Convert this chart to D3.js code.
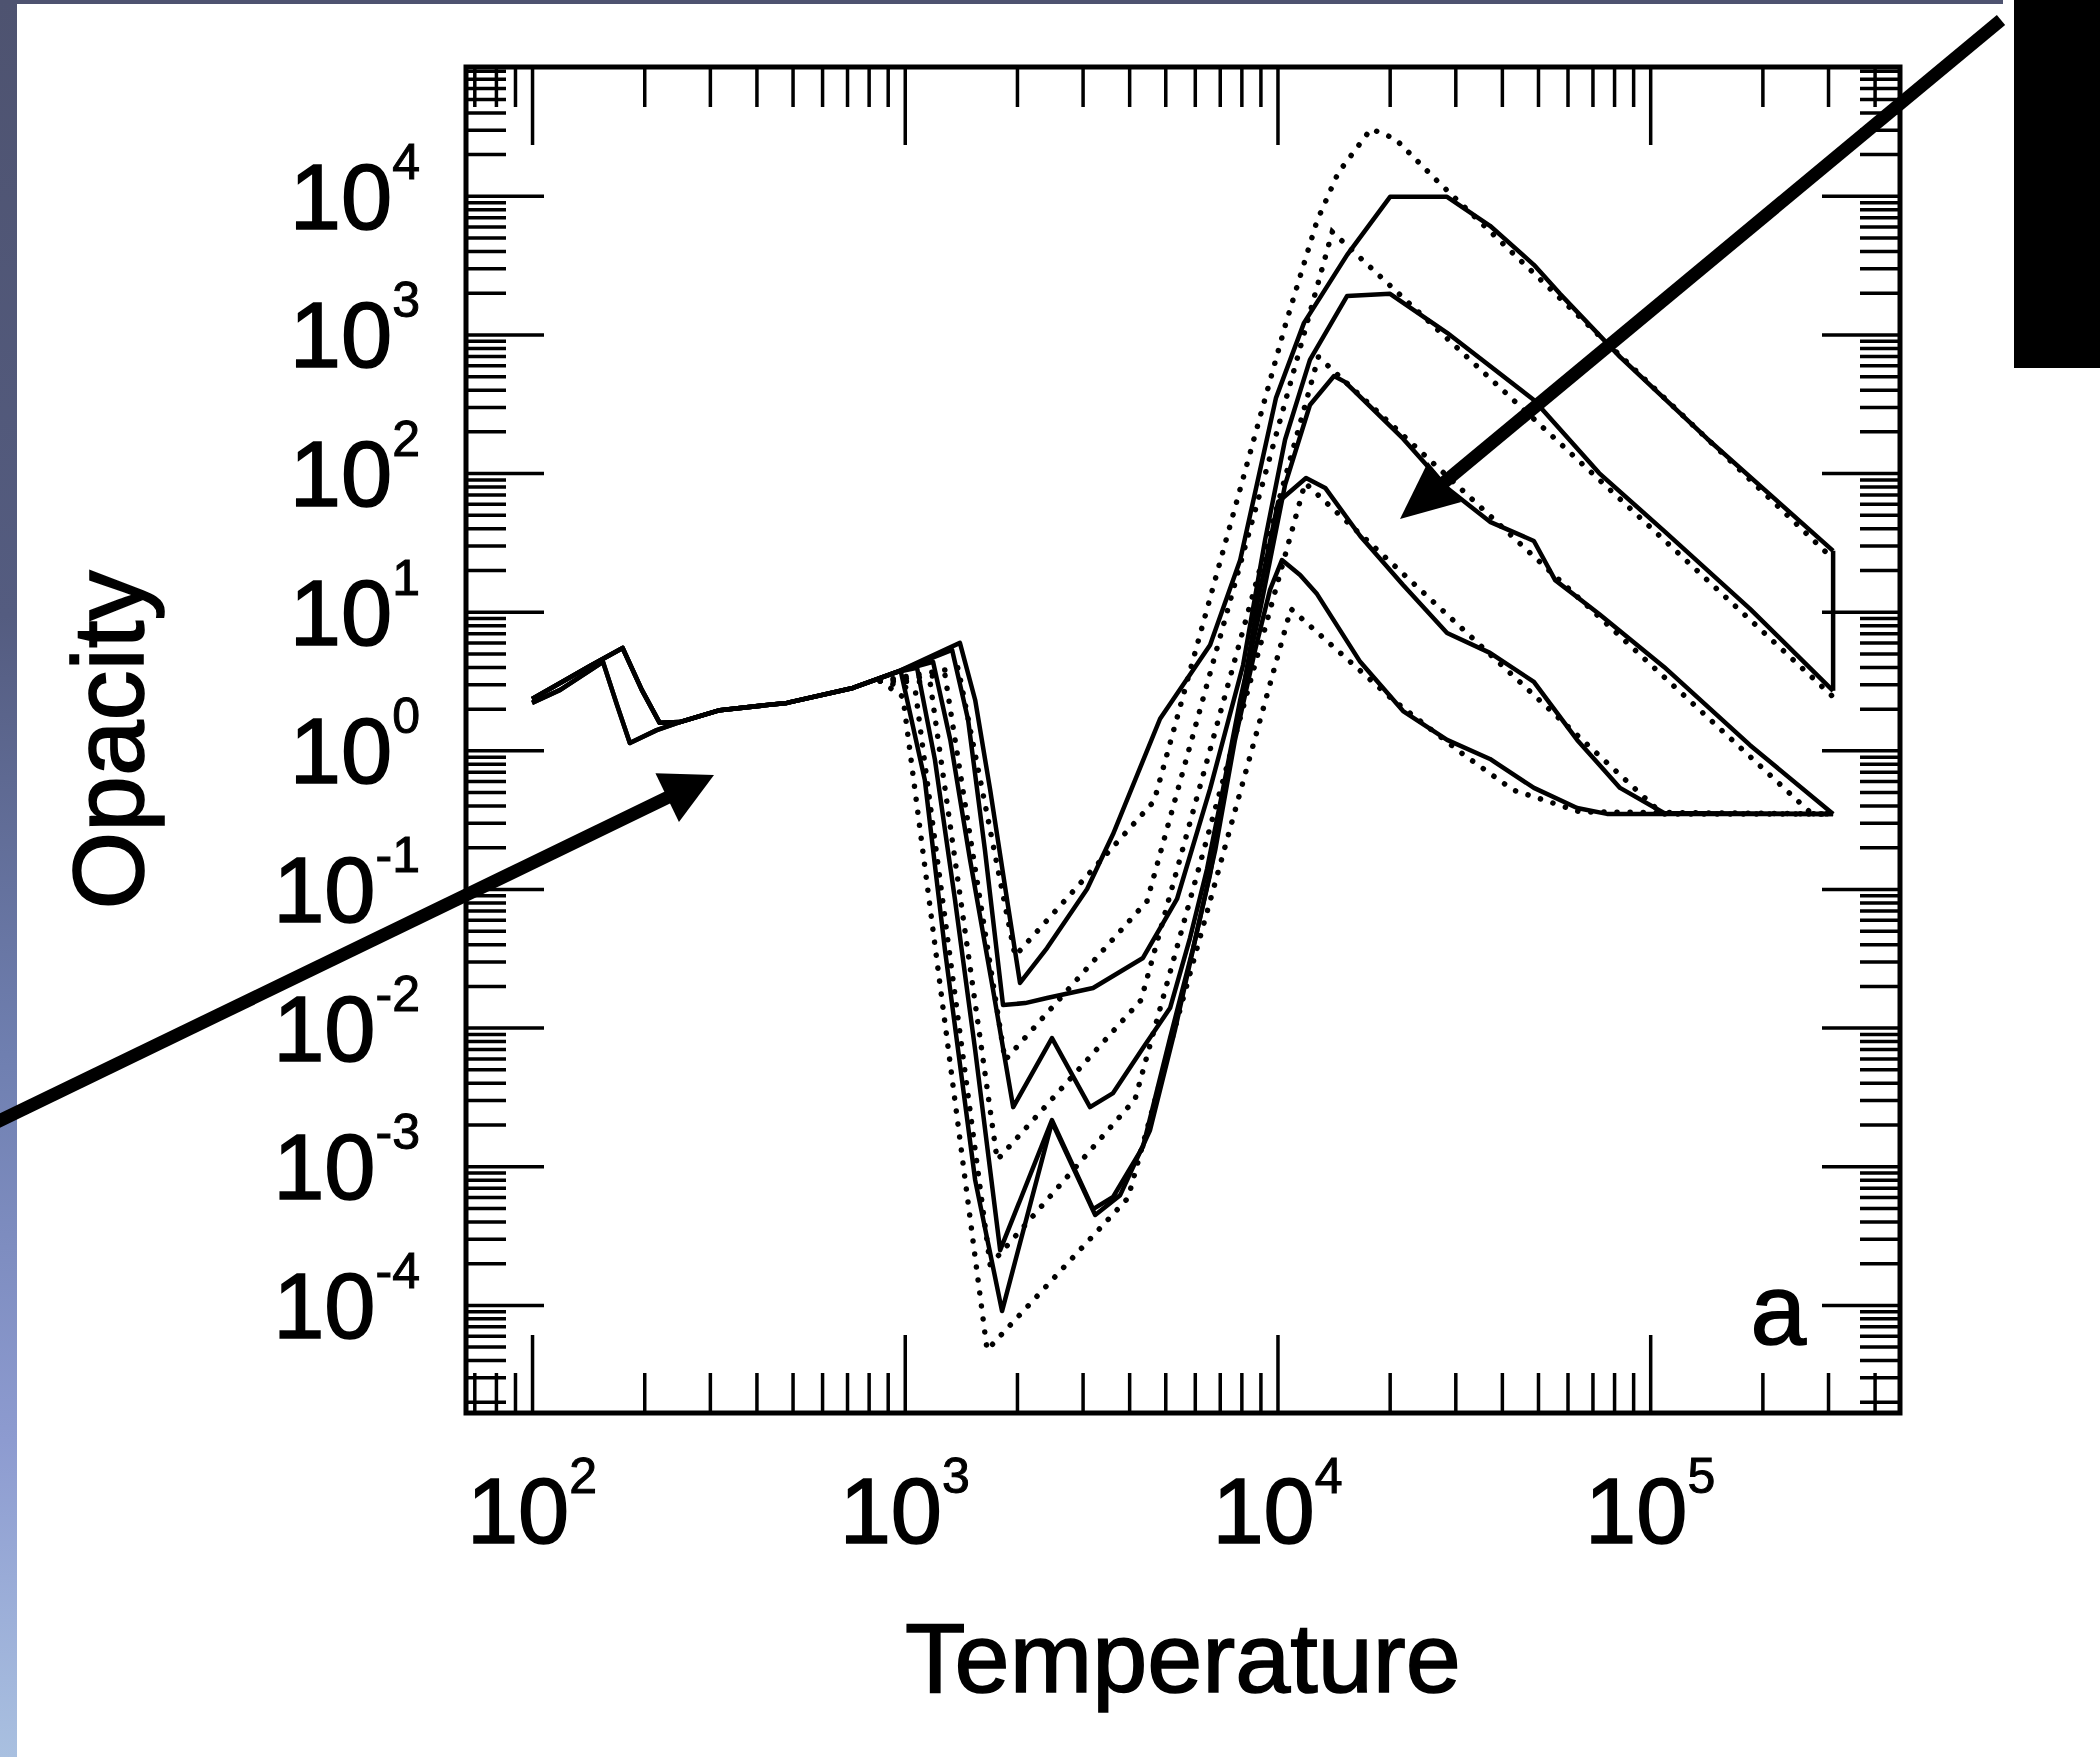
<!DOCTYPE html>
<html>
<head>
<meta charset="utf-8">
<script src="https://cdn.jsdelivr.net/npm/d3@7"></script>
<style>
body { margin: 0; background: #fff; }
svg text { font-family: "Liberation Sans", Arial, Helvetica, sans-serif; fill: #000; stroke: #000; stroke-width: 1.6px; }
</style>
</head>
<body>
<div id="chart"></div>
<script>
var width = 2100,
	height = 1757,
	plotLeft = 466,
	plotRight = 1900,
	plotTop = 67,
	plotBottom = 1413;

// axis ranges: temperature (K) and Rosseland mean opacity (cm^2/g)
var tempDomain = [66.5, 4.68e5],
	opacityDomain = [1.66e-5, 8.5e4];

var tempLabels = [1e2, 1e3, 1e4, 1e5];
var opacityLabels = [1e-4, 1e-3, 1e-2, 1e-1, 1e0, 1e1, 1e2, 1e3, 1e4];

// tabulated opacities (solid), [T, kappa], highest density first
var curve1 = [[100, 2.35], [119, 3.06], [143, 4.06], [175, 5.48], [197, 2.73], [220, 1.58], [249, 1.60],
	[319, 1.95], [483, 2.20], [726, 2.82], [953, 3.68], [1406, 5.96], [1545, 2.31], [1695, 0.518],
	[1893, 0.0753], [2038, 0.0210], [2408, 0.0375], [3085, 0.100], [3622, 0.249], [4842, 1.69],
	[6595, 5.75], [7943, 23.6], [9910, 349], [11780, 1213], [15380, 3750], [20050, 9840],
	[28510, 9840], [37170, 6080], [48750, 3180], [57280, 1963], [82990, 689], [142200, 177],
	[309600, 27.5]];

var curve2 = [[100, 2.35], [119, 3.06], [143, 4.06], [175, 5.48], [197, 2.73], [220, 1.58], [249, 1.60],
	[319, 1.95], [483, 2.20], [726, 2.82], [953, 3.68], [1340, 5.30], [1479, 1.66], [1641, 0.191],
	[1835, 0.01456], [2104, 0.01503], [2408, 0.01636], [3201, 0.0193], [4356, 0.0318], [5377, 0.0847],
	[6595, 0.527], [8087, 4.13], [9265, 33.0], [10480, 174], [12220, 656], [15380, 1897], [20050, 1963],
	[28510, 1028], [48750, 337], [72940, 100], [108900, 38.3], [185300, 10.5], [309600, 2.69]];

var curve3 = [[100, 2.35], [119, 3.06], [143, 4.06], [175, 5.48], [197, 2.73], [220, 1.58], [249, 1.60],
	[319, 1.95], [483, 2.20], [726, 2.82], [953, 3.68], [1191, 4.35], [1325, 1.19], [1497, 0.162],
	[1726, 0.01866], [1954, 0.00267], [2483, 0.00841], [3141, 0.00267], [3622, 0.00337], [4356, 0.00713],
	[5150, 0.01384], [5825, 0.0443], [6470, 0.139], [7145, 0.527], [7943, 2.31], [8983, 10.3],
	[10480, 82.2], [12220, 310], [14180, 502], [15170, 455], [21730, 177], [28510, 78.2], [37170, 44.5],
	[48750, 32.4], [55590, 16.9], [72940, 9.64], [108900, 4.00], [185300, 1.09], [309600, 0.348]];

var curve4 = [[100, 2.20], [119, 2.73], [155, 4.35], [169, 2.13], [183, 1.13], [216, 1.40], [249, 1.60],
	[319, 1.95], [483, 2.20], [726, 2.82], [953, 3.68], [1079, 3.94], [1205, 0.853], [1364, 0.0834],
	[1545, 0.00689], [1803, 0.000248], [2483, 0.00215], [3201, 0.000491], [3622, 0.000600],
	[4356, 0.00138], [5150, 0.00841], [5940, 0.0375], [6595, 0.128], [7464, 0.853], [8185, 3.22],
	[8870, 12.2], [10040, 61.9], [11930, 92.3], [13430, 78.2], [16670, 35.2], [21730, 15.6],
	[28510, 7.03], [37170, 5.05], [48750, 3.12], [63680, 1.19], [82990, 0.536], [108900, 0.353],
	[309600, 0.348]];

var curve5 = [[100, 2.20], [119, 2.73], [155, 4.35], [169, 2.13], [183, 1.13], [216, 1.40], [249, 1.60],
	[319, 1.95], [483, 2.20], [726, 2.82], [975, 3.75], [1132, 0.611], [1282, 0.0363], [1545, 0.000794],
	[1824, 0.0000902], [2483, 0.00208], [3243, 0.000445], [3784, 0.000619], [4550, 0.00182],
	[5309, 0.00962], [6012, 0.0429], [6808, 0.191], [7691, 1.19], [8710, 5.30], [9550, 14.4],
	[10280, 23.6], [11500, 18.4], [12770, 13.4], [16670, 4.35], [21730, 1.92], [28510, 1.19],
	[37170, 0.867], [48750, 0.536], [63680, 0.384], [76560, 0.348], [309600, 0.348]];

// end of the table: the plotted line drops from curve 1 to curve 2
var tableEdge = [[309600, 27.5], [309600, 2.69]];

// analytic fits (dotted), same densities
var fit1 = [[859, 3.17], [1390, 3.94], [1977, 0.0329], [4667, 0.431], [10540, 1213], [12770, 6607],
	[14550, 14660], [17820, 30400], [20700, 25760], [26980, 12620], [309600, 24.0]];
var fit2 = [[859, 3.17], [1282, 3.50], [1858, 0.00583], [4467, 0.0818], [14030, 5495], [309600, 2.43]];
var fit3 = [[859, 3.17], [1169, 3.12], [1770, 0.00111], [4305, 0.0158], [12880, 689], [271600, 0.348],
	[309600, 0.348]];
var fit4 = [[859, 3.17], [1067, 2.73], [1695, 0.000194], [4150, 0.00305], [11860, 84.9], [107700, 0.348],
	[309600, 0.348]];
var fit5 = [[859, 3.17], [989, 2.43], [1663, 0.0000472], [3972, 0.000590], [10860, 10.5], [20420, 2.31],
	[30900, 0.973], [42850, 0.518], [64860, 0.36], [309600, 0.348]];

var svg = d3.select("#chart").append("svg")
	.attr("width", width)
	.attr("height", height);

svg.append("rect")
	.attr("width", width)
	.attr("height", height)
	.attr("fill", "#fff");

// bits of the slide around the figure
var grad = svg.append("defs").append("linearGradient")
	.attr("id", "edge")
	.attr("x1", 0).attr("y1", 0)
	.attr("x2", 0).attr("y2", 1);
grad.append("stop").attr("offset", 0).attr("stop-color", "#4e5370");
grad.append("stop").attr("offset", 0.35).attr("stop-color", "#545c80");
grad.append("stop").attr("offset", 0.6).attr("stop-color", "#6f7fb0");
grad.append("stop").attr("offset", 0.82).attr("stop-color", "#8d9bd0");
grad.append("stop").attr("offset", 1).attr("stop-color", "#a9c0e0");

svg.append("rect")
	.attr("x", 0).attr("y", 0)
	.attr("width", 17).attr("height", height)
	.attr("fill", "url(#edge)");
svg.append("rect")
	.attr("x", 0).attr("y", 0)
	.attr("width", 2003).attr("height", 4)
	.attr("fill", "#4e5370");
svg.append("rect")
	.attr("x", 2014).attr("y", 0)
	.attr("width", 86).attr("height", 368)
	.attr("fill", "#000");

var x = d3.scaleLog().domain(tempDomain).range([plotLeft, plotRight]);
var y = d3.scaleLog().domain(opacityDomain).range([plotBottom, plotTop]);

function isDecade(v) {
	var p = Math.log10(v);
	return Math.abs(p - Math.round(p)) < 1e-6;
}

var xAll = x.ticks(40),
	yAll = y.ticks(40);
var xMajor = xAll.filter(isDecade),
	xMinor = xAll.filter(function(v) { return !isDecade(v); });
var yMajor = yAll.filter(isDecade),
	yMinor = yAll.filter(function(v) { return !isDecade(v); });

function styleAxis(g) {
	g.select(".domain").remove();
	g.selectAll(".tick line").attr("stroke", "#000").attr("stroke-width", 3.5);
}

// ticks point inward on all four sides
var axes = svg.append("g").attr("class", "axes");
axes.append("g").attr("transform", "translate(0," + plotBottom + ")")
	.call(d3.axisTop(x).tickValues(xMinor).tickSize(40).tickFormat("")).call(styleAxis);
axes.append("g").attr("transform", "translate(0," + plotBottom + ")")
	.call(d3.axisTop(x).tickValues(xMajor).tickSize(78).tickFormat("")).call(styleAxis);
axes.append("g").attr("transform", "translate(0," + plotTop + ")")
	.call(d3.axisBottom(x).tickValues(xMinor).tickSize(40).tickFormat("")).call(styleAxis);
axes.append("g").attr("transform", "translate(0," + plotTop + ")")
	.call(d3.axisBottom(x).tickValues(xMajor).tickSize(78).tickFormat("")).call(styleAxis);
axes.append("g").attr("transform", "translate(" + plotLeft + ",0)")
	.call(d3.axisRight(y).tickValues(yMinor).tickSize(40).tickFormat("")).call(styleAxis);
axes.append("g").attr("transform", "translate(" + plotLeft + ",0)")
	.call(d3.axisRight(y).tickValues(yMajor).tickSize(78).tickFormat("")).call(styleAxis);
axes.append("g").attr("transform", "translate(" + plotRight + ",0)")
	.call(d3.axisLeft(y).tickValues(yMinor).tickSize(40).tickFormat("")).call(styleAxis);
axes.append("g").attr("transform", "translate(" + plotRight + ",0)")
	.call(d3.axisLeft(y).tickValues(yMajor).tickSize(78).tickFormat("")).call(styleAxis);

svg.append("rect")
	.attr("x", plotLeft)
	.attr("y", plotTop)
	.attr("width", plotRight - plotLeft)
	.attr("height", plotBottom - plotTop)
	.attr("fill", "none")
	.attr("stroke", "#000")
	.attr("stroke-width", 5);

// the table is plotted point to point
var line = d3.line()
	.x(function(d) { return x(d[0]); })
	.y(function(d) { return y(d[1]); });

var curves = svg.append("g").attr("class", "curves");

curves.selectAll("path.table")
	.data([curve1, curve2, curve3, curve4, curve5, tableEdge])
	.enter()
	.append("path")
	.attr("class", "table")
	.attr("d", line)
	.attr("fill", "none")
	.attr("stroke", "#000")
	.attr("stroke-width", 4.5)
	.attr("stroke-linejoin", "round");

curves.selectAll("path.fit")
	.data([fit1, fit2, fit3, fit4, fit5])
	.enter()
	.append("path")
	.attr("class", "fit")
	.attr("d", line)
	.attr("fill", "none")
	.attr("stroke", "#000")
	.attr("stroke-width", 5.5)
	.attr("stroke-linecap", "round")
	.attr("stroke-dasharray", "0.1,13");

function powerLabel(sel) {
	sel.each(function(d) {
		var t = d3.select(this);
		t.append("tspan").text("10");
		t.append("tspan")
			.attr("dy", -50)
			.style("font-size", "50px")
			.style("stroke-width", "1px")
			.text(Math.round(Math.log10(d)));
	});
}

svg.selectAll("text.ylab")
	.data(opacityLabels)
	.enter()
	.append("text")
	.attr("class", "ylab")
	.attr("x", 420)
	.attr("y", function(d) { return y(d) + 33; })
	.attr("text-anchor", "end")
	.style("font-size", "92px")
	.call(powerLabel);

svg.selectAll("text.xlab")
	.data(tempLabels)
	.enter()
	.append("text")
	.attr("class", "xlab")
	.attr("x", function(d) { return x(d); })
	.attr("y", 1543)
	.attr("text-anchor", "middle")
	.style("font-size", "92px")
	.call(powerLabel);

svg.append("text")
	.attr("x", (plotLeft + plotRight) / 2)
	.attr("y", 1692)
	.attr("text-anchor", "middle")
	.style("font-size", "99px")
	.text("Temperature");

svg.append("text")
	.attr("transform", "translate(143," + (plotTop + plotBottom) / 2 + ") rotate(-90)")
	.attr("text-anchor", "middle")
	.style("font-size", "100px")
	.text("Opacity");

svg.append("text")
	.attr("x", 1806)
	.attr("y", 1344)
	.attr("text-anchor", "end")
	.style("font-size", "100px")
	.text("a");

// pointer arrows laid over the slide
function arrow(x1, y1, x2, y2, headLen, headHalf) {
	var dx = x2 - x1, dy = y2 - y1,
		len = Math.sqrt(dx * dx + dy * dy),
		ux = dx / len, uy = dy / len,
		bx = x2 - ux * headLen, by = y2 - uy * headLen;
	svg.append("line")
		.attr("x1", x1).attr("y1", y1)
		.attr("x2", bx + ux * 4).attr("y2", by + uy * 4)
		.attr("stroke", "#000")
		.attr("stroke-width", 13);
	svg.append("polygon")
		.attr("points", [[x2, y2], [bx - uy * headHalf, by + ux * headHalf], [bx + uy * headHalf, by - ux * headHalf]].join(" "))
		.attr("fill", "#000");
}

arrow(2001, 20, 1400, 519, 58, 26);
arrow(-5, 1123, 714, 775, 52, 27);
</script>
</body>
</html>
